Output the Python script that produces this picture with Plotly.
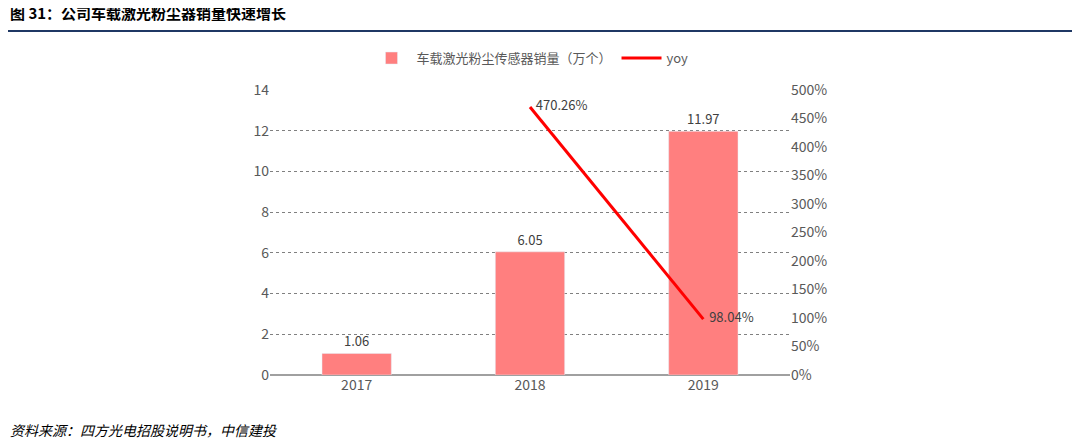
import plotly.graph_objects as go

years = ["2017", "2018", "2019"]
sales = [1.06, 6.05, 11.97]
yoy_years = ["2018", "2019"]
yoy = [470.26, 98.04]

CJK = "Noto Sans CJK SC"

fig = go.Figure()
fig.add_trace(go.Bar(
    x=years, y=sales, name="车载激光粉尘传感器销量（万个）",
    marker_color="#FF7F7F", width=0.4,
    text=[f"{v:.2f}" for v in sales], textposition="outside",
    textfont=dict(size=13, color="#404040"), cliponaxis=False,
))
fig.add_trace(go.Scatter(
    x=yoy_years, y=yoy, name="yoy", yaxis="y2", mode="lines+text",
    line=dict(color="#FF0000", width=3),
    text=[f"  {v:.2f}%" for v in yoy], textposition="middle right",
    textfont=dict(size=13, color="#404040"), cliponaxis=False,
))

fig.update_layout(
    width=1080, height=446,
    margin=dict(l=262, r=298, t=82, b=79),
    plot_bgcolor="white", paper_bgcolor="white",
    font=dict(family=CJK, size=13, color="#595959"),
    bargap=0.6,
    xaxis=dict(showline=False, ticks="", tickfont=dict(size=14)),
    yaxis=dict(range=[0, 14], dtick=2, showgrid=True, gridcolor="#808080",
               griddash="dot", gridwidth=1, zeroline=True, zerolinecolor="#A0A0A0",
               ticks="", tickfont=dict(size=14)),
    yaxis2=dict(range=[0, 500], dtick=50, overlaying="y", side="right",
                ticksuffix="%", showgrid=False, zeroline=False, tickfont=dict(size=14)),
    legend=dict(orientation="h", x=0.5, xanchor="center", y=1.112, yanchor="middle",
                font=dict(size=13, color="#595959"), itemwidth=40),
    showlegend=True,
)

fig.add_annotation(text="<b>图 31：公司车载激光粉尘器销量快速增长</b>", xref="paper", yref="paper",
                   x=-262/520, y=(375-12)/285, xanchor="left", yanchor="middle",
                   showarrow=False, font=dict(size=15, color="#000000", family=CJK))
fig.add_shape(type="line", xref="paper", yref="paper", x0=-262/520, x1=(1080-262)/520,
              y0=(375-31)/285, y1=(375-31)/285, line=dict(color="#1F3864", width=2))
fig.add_annotation(text="<i>资料来源：四方光电招股说明书，中信建投</i>", xref="paper", yref="paper",
                   x=-262/520, y=(375-430)/285, xanchor="left", yanchor="middle",
                   showarrow=False, font=dict(size=14, color="#000000", family=CJK))

fig.write_html("out.html")
